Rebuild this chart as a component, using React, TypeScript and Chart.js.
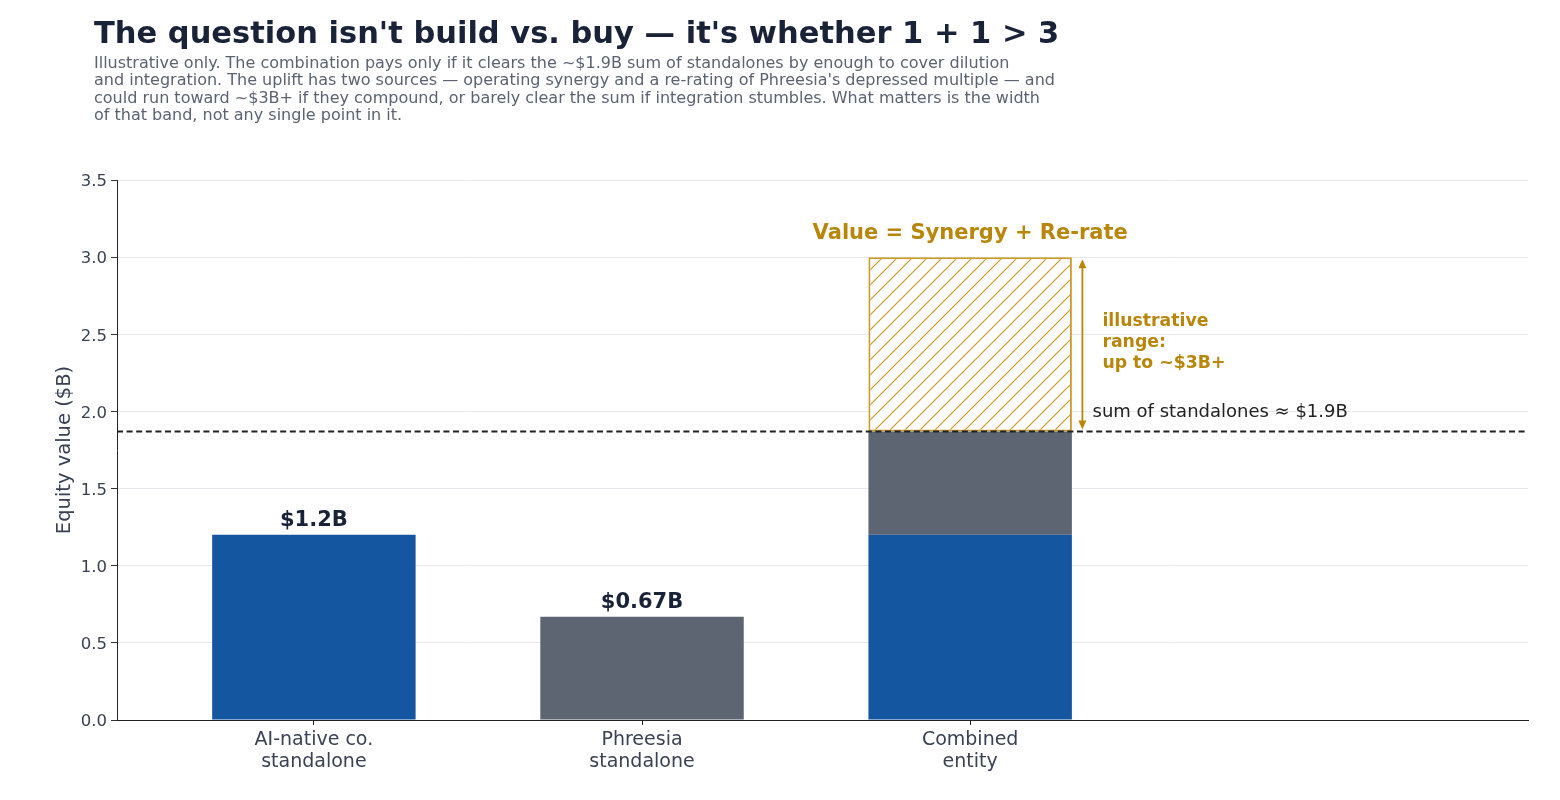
import React, { useEffect, useRef } from "react";
import { Chart, registerables } from "chart.js";

Chart.register(...registerables);

const TITLE = "The question isn't build vs. buy — it's whether 1 + 1 > 3";
const SUBTITLE_LINES = [
  "Illustrative only. The combination pays only if it clears the ~$1.9B sum of standalones by enough to cover dilution",
  "and integration. The uplift has two sources — operating synergy and a re-rating of Phreesia's depressed multiple — and",
  "could run toward ~$3B+ if they compound, or barely clear the sum if integration stumbles. What matters is the width",
  "of that band, not any single point in it.",
];

const categories: string[][] = [
  ["AI-native co.", "standalone"],
  ["Phreesia", "standalone"],
  ["Combined", "entity"],
];
const aiNativeValues: (number | null)[] = [1.2, null, 1.2];
const phreesiaValues: (number | null)[] = [null, 0.67, 0.67];
const upliftValues: (number | null)[] = [null, null, 1.13];
const barLabels: (string | null)[] = ["$1.2B", "$0.67B", null];
const sumOfStandalones = 1.87;
const rangeTop = 3.0;
const yMin = 0;
const yMax = 3.5;
const yStep = 0.5;

const FONT = "'DejaVu Sans', sans-serif";
const NAVY = "#1a2238";
const BLUE = "#14569f";
const GRAY = "#5d6472";
const GOLD = "#b8860b";
const HATCH = "#c9992a";

function toPoints(values: (number | null)[]) {
  return values
    .map((v, i) => ({ x: i, y: v }))
    .filter((p) => p.y !== null) as { x: number; y: number }[];
}

function makeHatch(): CanvasPattern | string {
  const size = 15;
  const c = document.createElement("canvas");
  c.width = size;
  c.height = size;
  const g = c.getContext("2d");
  if (!g) return "#fff";
  g.fillStyle = "#ffffff";
  g.fillRect(0, 0, size, size);
  g.strokeStyle = HATCH;
  g.lineWidth = 1.2;
  g.beginPath();
  g.moveTo(0, size);
  g.lineTo(size, 0);
  g.moveTo(-size / 2, size / 2);
  g.lineTo(size / 2, -size / 2);
  g.moveTo(size / 2, size * 1.5);
  g.lineTo(size * 1.5, size / 2);
  g.stroke();
  const p = g.createPattern(c, "repeat");
  return p || "#fff";
}

const annotationPlugin = {
  id: "annotations",
  afterDraw(chart: any) {
    const { ctx, scales, chartArea } = chart;
    const x = scales.x;
    const y = scales.y;
    ctx.save();

    // Title
    ctx.textAlign = "left";
    ctx.textBaseline = "alphabetic";
    ctx.fillStyle = NAVY;
    ctx.font = `bold 30.5px ${FONT}`;
    ctx.fillText(TITLE, 94, 43);
    ctx.fillStyle = "#5b6270";
    ctx.font = `16px ${FONT}`;
    SUBTITLE_LINES.forEach((line, i) => {
      ctx.fillText(line, 94, 67.5 + i * 17.5);
    });

    // Dashed sum line
    const ySum = y.getPixelForValue(sumOfStandalones);
    ctx.strokeStyle = "#222";
    ctx.lineWidth = 1.8;
    ctx.setLineDash([6, 3.6]);
    ctx.beginPath();
    ctx.moveTo(chartArea.left, ySum);
    ctx.lineTo(chartArea.right, ySum);
    ctx.stroke();
    ctx.setLineDash([]);

    // Bar value labels
    ctx.font = `bold 21px ${FONT}`;
    ctx.fillStyle = NAVY;
    ctx.textAlign = "center";
    ctx.textBaseline = "middle";
    barLabels.forEach((lab, i) => {
      if (!lab) return;
      const v = (aiNativeValues[i] ?? 0) + (phreesiaValues[i] ?? 0);
      ctx.fillText(lab, x.getPixelForValue(i), y.getPixelForValue(v) - 14.5);
    });

    // Range header
    const yTop = y.getPixelForValue(rangeTop);
    ctx.fillStyle = GOLD;
    ctx.font = `bold 21px ${FONT}`;
    ctx.fillText("Value = Synergy + Re-rate", x.getPixelForValue(2), yTop - 24);

    // Double arrow
    const ax = x.getPixelForValue(2.342);
    ctx.strokeStyle = GOLD;
    ctx.fillStyle = GOLD;
    ctx.lineWidth = 1.8;
    ctx.beginPath();
    ctx.moveTo(ax, yTop + 6);
    ctx.lineTo(ax, ySum - 6);
    ctx.stroke();
    const head = (tipY: number, dir: number) => {
      ctx.beginPath();
      ctx.moveTo(ax, tipY);
      ctx.lineTo(ax - 4, tipY + dir * 9);
      ctx.lineTo(ax + 4, tipY + dir * 9);
      ctx.closePath();
      ctx.fill();
    };
    head(yTop + 2, 1);
    head(ySum - 2, -1);

    // Range text
    ctx.textAlign = "left";
    ctx.font = `bold 17.3px ${FONT}`;
    const tx = x.getPixelForValue(2.403);
    ["illustrative", "range:", "up to ~$3B+"].forEach((t, i) => {
      ctx.fillText(t, tx, 321.5 + i * 21);
    });

    // Sum text
    ctx.fillStyle = "#222";
    ctx.font = `18px ${FONT}`;
    ctx.fillText("sum of standalones ≈ $1.9B", x.getPixelForValue(2.373), ySum - 19.5);

    ctx.restore();
  },
};

export default function App() {
  const ref = useRef<HTMLCanvasElement | null>(null);

  useEffect(() => {
    if (!ref.current) return;
    const hatch = makeHatch();
    const chart = new Chart(ref.current, {
      type: "bar",
      data: {
        datasets: [
          {
            label: "AI-native co.",
            data: toPoints(aiNativeValues),
            backgroundColor: BLUE,
            borderWidth: 0,
          },
          {
            label: "Phreesia",
            data: toPoints(phreesiaValues),
            backgroundColor: GRAY,
            borderWidth: 0,
          },
          {
            label: "Uplift range",
            data: toPoints(upliftValues),
            backgroundColor: hatch as any,
            borderColor: HATCH,
            borderWidth: 2,
            borderSkipped: false,
          },
        ],
      } as any,
      options: {
        responsive: false,
        animation: false,
        events: [],
        datasets: { bar: { barPercentage: 0.62, categoryPercentage: 1 } },
        layout: { padding: { top: 180, right: 32, left: 0, bottom: 0 } },
        plugins: {
          legend: { display: false },
          tooltip: { enabled: false },
          title: { display: false },
        },
        scales: {
          x: {
            type: "linear",
            min: -0.6,
            max: 3.7,
            stacked: true,
            offset: false,
            afterBuildTicks: (s: any) => {
              s.ticks = categories.map((_, i) => ({ value: i }));
            },
            afterFit: (s: any) => {
              s.height = 80;
            },
            grid: {
              offset: false,
              drawOnChartArea: false,
              drawTicks: true,
              tickLength: 5,
              tickColor: "#222",
            },
            border: { display: true, color: "#222", width: 1 },
            ticks: {
              autoSkip: false,
              maxRotation: 0,
              padding: 4,
              color: "#3a4152",
              font: { family: FONT, size: 19, lineHeight: 1.16 },
              callback: (v: any) => categories[Math.round(Number(v))] ?? "",
            },
          },
          y: {
            type: "linear",
            min: yMin,
            max: yMax,
            stacked: true,
            afterFit: (s: any) => {
              s.width = 117;
            },
            grid: {
              color: "#e7e7ec",
              lineWidth: 1,
              tickColor: "#333",
              tickLength: 6,
            },
            border: { display: true, color: "#222", width: 1 },
            ticks: {
              stepSize: yStep,
              padding: 4,
              labelOffset: 2,
              color: "#3a4152",
              font: { family: FONT, size: 16.5 },
              callback: (v: any) => Number(v).toFixed(1),
            },
            title: {
              display: true,
              text: "Equity value ($B)",
              color: "#3a4152",
              font: { family: FONT, size: 19.5 },
              padding: { top: 53, bottom: 0 },
            },
          },
        },
      } as any,
      plugins: [annotationPlugin],
    });
    return () => chart.destroy();
  }, []);

  return (
    <div style={{ position: "absolute", left: 0, top: 0, width: 1560, height: 800, background: "#fff" }}>
      <canvas ref={ref} width={1560} height={800} style={{ display: "block" }} />
    </div>
  );
}
